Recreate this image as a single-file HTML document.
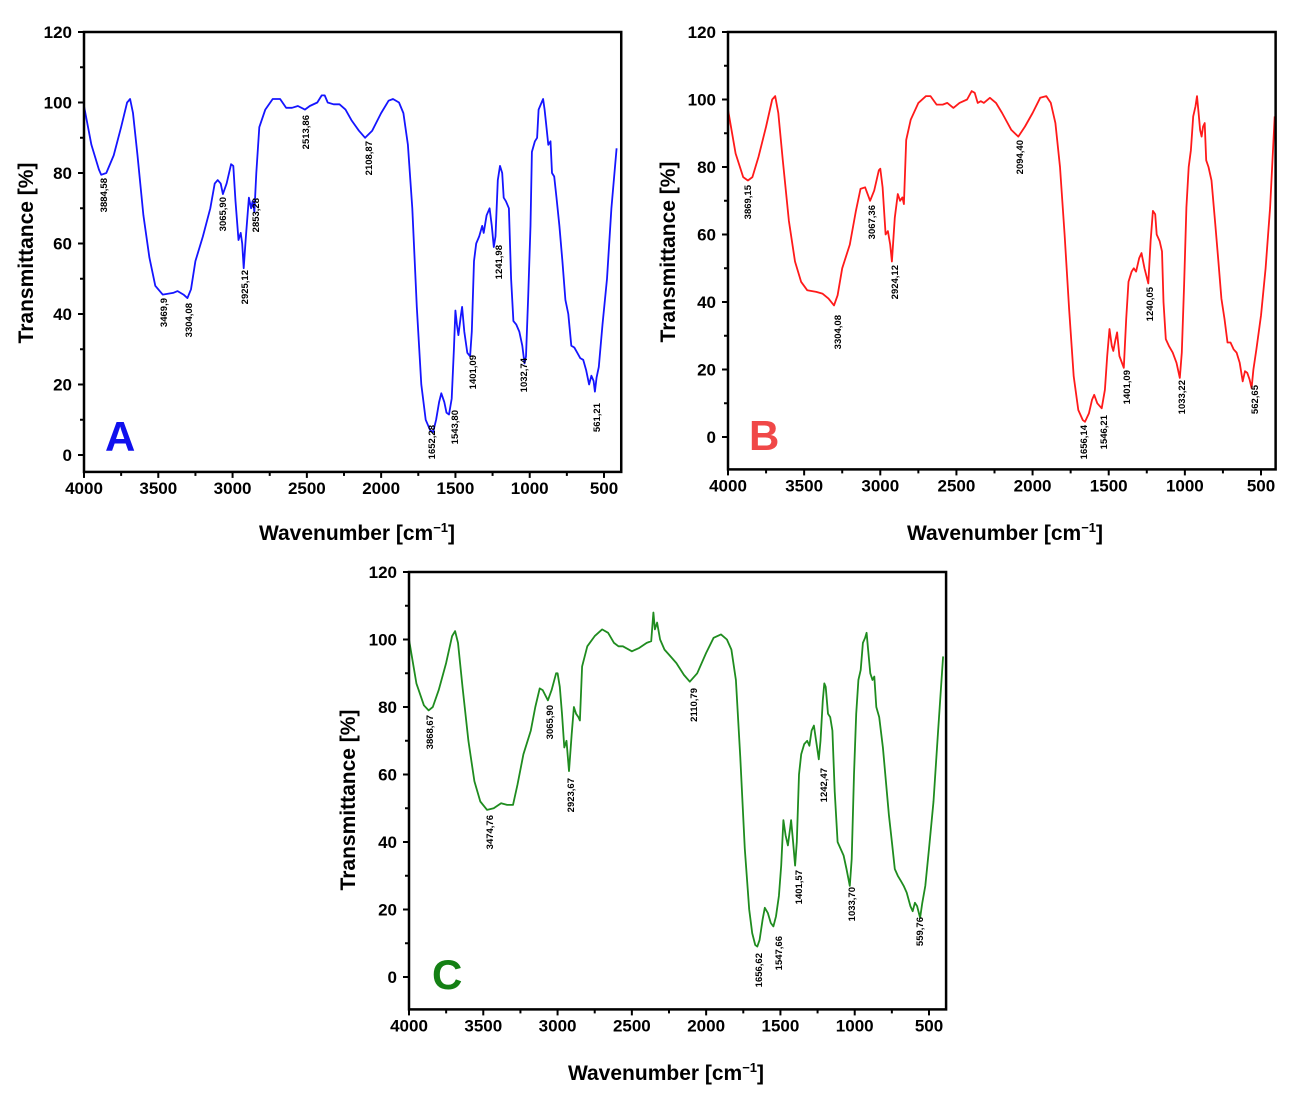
<!DOCTYPE html>
<html><head><meta charset="utf-8"><style>
html,body{margin:0;padding:0;background:#fff;}
svg{display:block;font-family:"Liberation Sans",Arial,sans-serif;}
</style></head><body>
<svg id="s" width="1300" height="1100" viewBox="0 0 1300 1100" xmlns="http://www.w3.org/2000/svg"></svg>
<script>
var S=document.getElementById('s');var NS='http://www.w3.org/2000/svg';
function el(t,a,txt){var e=document.createElementNS(NS,t);for(var k in a)e.setAttribute(k,a[k]);if(txt!==undefined)e.textContent=txt;S.appendChild(e);return e;}
function panel(P){
 var X=function(w){return P.x4000+(4000-w)*(P.x500-P.x4000)/3500;};
 var Y=function(t){return P.y0-t*(P.y0-P.y120)/120;};
 var L=P.x4000,R=X(385+P.rext),T=P.y120,B=Y(P.ybot);
 for(var w=4000;w>=500;w-=250){var x=X(w),maj=(w%500==0);el('line',{x1:x,y1:B,x2:x,y2:B+(maj?6:4),stroke:'#000','stroke-width':2});
  if(maj)el('text',{x:x,y:B+22,'font-size':17,'font-weight':'bold','text-anchor':'middle'},w);}
 for(var t=0;t<=120;t+=10){var y=Y(t),maj=(t%20==0);el('line',{x1:L,y1:y,x2:L-(maj?6:4),y2:y,stroke:'#000','stroke-width':2});
  if(maj)el('text',{x:L-12,y:y+6,'font-size':17,'font-weight':'bold','text-anchor':'end'},t);}
 var d='';P.d.forEach(function(p,i){d+=(i?'L':'M')+X(p[0]).toFixed(1)+' '+Y(p[1]).toFixed(1);});
 el('path',{d:d,fill:'none',stroke:P.col,'stroke-width':1.8,'stroke-linejoin':'round'});
 el('rect',{x:L,y:T,width:R-L,height:B-T,fill:'none',stroke:'#000','stroke-width':2.5});
 P.lab.forEach(function(l){el('text',{transform:'translate('+(l[1]+3)+','+l[2]+') rotate(-90)','font-size':9.5,'font-weight':'bold','text-anchor':'end'},l[0]);});
 el('text',{x:P.big[0],y:P.big[1],'font-size':42,'font-weight':'bold',fill:P.bigcol},P.name);
 el('text',{transform:'translate('+P.yt[0]+','+P.yt[1]+') rotate(-90)','font-size':21,'font-weight':'bold','text-anchor':'middle'},'Transmittance [%]');
 var tx=el('text',{x:P.xt[0],y:P.xt[1],'font-size':21,'font-weight':'bold','text-anchor':'middle'});
 tx.innerHTML='Wavenumber [cm<tspan dy="-8" font-size="13">−1</tspan><tspan dy="8">]</tspan>';
}
panel({x4000:84,x500:604,y120:32,y0:455,ybot:-4.8,rext:-1,col:'#1515ff',bigcol:'#1010ee',name:'A',big:[105,451],yt:[33,253],xt:[357,540],
d:[[4000,99],[3950,88],[3900,81],[3884,79.5],[3850,80],[3800,85],[3750,93],[3710,100],[3690,101],[3670,97],[3640,85],[3600,68],[3560,56],[3520,48],[3470,45.5],[3400,46],[3370,46.5],[3330,45.5],[3304,44.5],[3280,47],[3250,55],[3200,62],[3150,70],[3120,77],[3100,78],[3080,77],[3065,74],[3040,77],[3010,82.5],[2995,82],[2980,72],[2960,61],[2945,63],[2935,60],[2925,53],[2910,62],[2890,73],[2875,70],[2865,72],[2853,69],[2840,80],[2820,93],[2780,98],[2730,101],[2680,101],[2640,98.5],[2600,98.5],[2560,99],[2513,98],[2480,99],[2430,100],[2400,102],[2380,102],[2360,100],[2320,99.5],[2280,99.5],[2240,98],[2200,95],[2150,92],[2108,90],[2060,92],[2000,97],[1950,100.5],[1920,101],[1880,100],[1850,97],[1820,88],[1790,70],[1760,42],[1730,20],[1700,10],[1670,7],[1650,6.5],[1630,10],[1610,15],[1595,17.5],[1575,15],[1560,12],[1543,11.5],[1525,16],[1510,30],[1500,41],[1490,37],[1480,34],[1465,39],[1455,42],[1440,35],[1420,29],[1401,28],[1390,35],[1375,55],[1360,60],[1340,62],[1320,65],[1310,63],[1290,68],[1270,70],[1255,65],[1242,59],[1230,62],[1215,78],[1200,82],[1185,80],[1175,73],[1160,72],[1140,70],[1125,50],[1110,38],[1090,37],[1070,35],[1050,31],[1035,26],[1025,28],[1010,45],[995,65],[985,86],[965,89],[950,90],[940,98],[920,100],[910,101],[900,98],[890,94],[875,88],[860,89],[850,80],[835,79],[820,73],[800,65],[780,55],[760,44],[740,40],[720,31],[700,30.5],[680,29],[660,27.5],[640,27],[620,24],[600,20],[585,22.5],[570,21],[561,18],[550,22],[535,25],[510,37],[480,50],[450,70],[415,87]],
lab:[['3884,58',104,178],['3469,9',164,298],['3304,08',189,303],['3065,90',223,197],['2925,12',245,270],['2853,28',256,198],['2513,86',306,115],['2108,87',369,141],['1652,28',432,425],['1543,80',455,410],['1401,09',473,355],['1241,98',499,245],['1032,74',524,358],['561,21',597,403]]});
panel({x4000:728,x500:1261,y120:32,y0:437,ybot:-9.6,rext:19,col:'#ff1a1a',bigcol:'#f04848',name:'B',big:[749,450],yt:[675,252],xt:[1005,540],
d:[[4000,97],[3950,84],[3900,77],[3869,76],[3840,77],[3800,83],[3750,92],[3710,100],[3690,101],[3670,96],[3640,82],[3600,64],[3560,52],[3520,46],[3480,43.5],[3420,43],[3380,42.5],[3340,41],[3304,39],[3280,42],[3250,50],[3200,57],[3160,67],[3130,73.5],[3100,74],[3067,70],[3040,73],[3010,79],[3000,79.5],[2985,74],[2965,60],[2950,61],[2935,57],[2924,52],[2905,65],[2885,72],[2870,70],[2855,71],[2845,69],[2830,88],[2800,94],[2750,99],[2700,101],[2670,101],[2630,98.5],[2590,98.5],[2560,99],[2520,97.5],[2480,99],[2430,100],[2400,102.5],[2380,102],[2360,99],[2340,99.5],[2320,99],[2280,100.5],[2240,99],[2200,96],[2140,91],[2094,89],[2050,92],[2000,96],[1950,100.5],[1910,101],[1880,99],[1850,93],[1820,80],[1790,60],[1760,38],[1730,18],[1700,8],[1670,5],[1656,4.5],[1630,7],[1610,11],[1595,12.5],[1575,10],[1546,8.5],[1525,14],[1510,24],[1495,32],[1480,27],[1470,25.5],[1455,29],[1445,31],[1430,24],[1401,20.5],[1385,35],[1370,46],[1350,49],[1335,50],[1320,49],[1300,53],[1285,54.5],[1265,50],[1240,45.5],[1225,58],[1210,67],[1195,66],[1185,60],[1165,58],[1150,55],[1140,40],[1125,29],[1105,27],[1080,25],[1055,22],[1033,17.5],[1020,25],[1005,45],[990,68],[975,80],[960,85],[945,95],[930,98],[920,101],[910,96],[900,91],[890,89],[880,92],[870,93],[860,82],[845,80],[825,76],[800,63],[780,52],[760,41],[740,35],[720,28],[700,28],[680,26],[660,25],[640,22],[620,16.5],[605,19.5],[590,19],[575,17],[562,14.5],[550,20],[530,26],[500,36],[470,50],[440,68],[410,95]],
lab:[['3869,15',748,185],['3304,08',838,315],['3067,36',872,205],['2924,12',895,265],['2094,40',1020,140],['1656,14',1084,425],['1546,21',1104,415],['1401,09',1127,370],['1240,05',1150,287],['1033,22',1182,380],['562,65',1255,385]]});
panel({x4000:409,x500:929,y120:572,y0:977,ybot:-9.6,rext:0,col:'#1f8c1f',bigcol:'#148014',name:'C',big:[432,989],yt:[355,800],xt:[666,1080],
d:[[4000,100],[3950,87],[3900,80.5],[3868,79],[3840,80],[3800,85],[3750,93],[3710,101],[3690,102.5],[3670,99],[3640,86],[3600,70],[3560,58],[3520,52],[3474,49.5],[3430,50],[3380,51.5],[3340,51],[3300,51],[3270,57],[3230,66],[3180,73],[3150,80],[3120,85.5],[3100,85],[3065,82],[3040,85],[3010,90],[3000,90],[2985,86],[2970,78],[2955,68],[2940,70],[2923,61],[2905,72],[2890,80],[2875,78],[2860,77],[2850,76],[2835,92],[2800,98],[2750,101],[2700,103],[2660,102],[2620,99],[2590,98],[2560,98],[2500,96.5],[2450,97.5],[2400,99],[2370,99.5],[2355,108],[2345,103],[2330,105],[2310,100],[2280,97],[2240,95],[2200,93],[2150,89.5],[2110,87.5],[2060,90],[2000,96],[1950,100.5],[1900,101.5],[1860,100],[1830,97],[1800,88],[1770,65],[1740,38],[1710,20],[1690,13],[1670,9.5],[1656,9],[1640,11],[1620,17],[1605,20.5],[1585,19],[1565,16],[1547,15],[1530,18],[1510,24],[1495,33],[1480,46.5],[1465,42],[1450,39],[1435,44],[1428,46.5],[1415,40],[1401,33],[1390,40],[1375,60],[1360,66],[1340,69],[1320,70],[1305,68.5],[1290,73],[1275,74.5],[1260,70],[1242,64.5],[1230,70],[1215,82],[1205,87],[1195,86],[1180,78],[1165,77],[1150,73],[1135,55],[1115,40],[1095,38],[1075,36],[1055,32],[1033,27],[1020,35],[1005,60],[990,78],[975,88],[960,91],[945,99],[930,100.5],[920,102],[910,97],[895,90],[880,88],[868,89],[855,80],[835,77],[810,68],[790,58],[770,48],[750,40],[730,32],[710,30],[690,28.5],[670,27],[650,25],[625,21],[610,19.5],[595,22],[580,21],[560,17.5],[545,22],[525,27],[500,38],[470,52],[440,72],[405,95]],
lab:[['3868,67',430,715],['3474,76',490,815],['3065,90',550,705],['2923,67',571,778],['2110,79',694,688],['1656,62',759,953],['1547,66',779,936],['1401,57',799,870],['1242,47',824,768],['1033,70',852,887],['559,76',920,917]]});
</script>
</body></html>
